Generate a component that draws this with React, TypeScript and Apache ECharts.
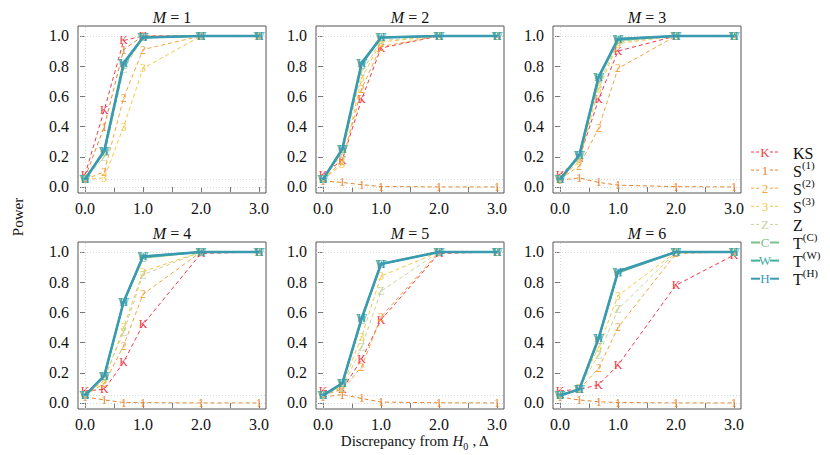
import React, { useEffect, useRef } from "react";
import * as echarts from "echarts";

// ---------- data ----------
const deltas = [0, 0.333, 0.667, 1, 2, 3];
const panelM = ["1", "2", "3", "4", "5", "6"];
const refLevels = [0, 0.05, 1];
const xTickValues = [0, 0.5, 1, 1.5, 2, 2.5, 3];
const xLabelValues = [0, 1, 2, 3];
const yTickValues = [0, 0.2, 0.4, 0.6, 0.8, 1.0];

const ksPower = [
  [0.08, 0.51, 0.97, 1.0, 1.0, 1.0],
  [0.08, 0.18, 0.58, 0.92, 1.0, 1.0],
  [0.08, 0.19, 0.58, 0.9, 1.0, 1.0],
  [0.08, 0.09, 0.27, 0.52, 0.99, 1.0],
  [0.08, 0.09, 0.29, 0.55, 0.99, 1.0],
  [0.08, 0.09, 0.12, 0.25, 0.78, 0.98],
];
const s1Power = [
  [0.06, 0.4, 0.91, 1.0, 1.0, 1.0],
  [0.04, 0.03, 0.015, 0.003, 0.0, 0.0],
  [0.045, 0.06, 0.03, 0.012, 0.002, 0.0],
  [0.04, 0.02, 0.003, 0.002, 0.0, 0.0],
  [0.04, 0.055, 0.03, 0.006, 0.001, 0.0],
  [0.04, 0.02, 0.008, 0.003, 0.0, 0.0],
];
const s2Power = [
  [0.05, 0.1, 0.59, 0.91, 1.0, 1.0],
  [0.05, 0.17, 0.65, 0.93, 1.0, 1.0],
  [0.05, 0.14, 0.39, 0.785, 1.0, 1.0],
  [0.05, 0.13, 0.38, 0.72, 1.0, 1.0],
  [0.05, 0.09, 0.24, 0.57, 1.0, 1.0],
  [0.05, 0.09, 0.23, 0.5, 0.99, 1.0],
];
const s3Power = [
  [0.05, 0.06, 0.4, 0.785, 1.0, 1.0],
  [0.05, 0.15, 0.72, 0.96, 1.0, 1.0],
  [0.05, 0.17, 0.65, 0.95, 1.0, 1.0],
  [0.05, 0.15, 0.5, 0.87, 1.0, 1.0],
  [0.05, 0.11, 0.44, 0.84, 1.0, 1.0],
  [0.05, 0.1, 0.37, 0.71, 1.0, 1.0],
];
const zPower = [
  [0.05, 0.2, 0.78, 0.99, 1.0, 1.0],
  [0.05, 0.22, 0.76, 0.97, 1.0, 1.0],
  [0.05, 0.19, 0.68, 0.96, 1.0, 1.0],
  [0.05, 0.17, 0.47, 0.85, 1.0, 1.0],
  [0.05, 0.1, 0.37, 0.74, 1.0, 1.0],
  [0.05, 0.1, 0.32, 0.62, 1.0, 1.0],
];
const tcPower = [
  [0.05, 0.23, 0.81, 0.99, 1.0, 1.0],
  [0.05, 0.25, 0.81, 0.99, 1.0, 1.0],
  [0.05, 0.21, 0.72, 0.97, 1.0, 1.0],
  [0.05, 0.18, 0.67, 0.96, 1.0, 1.0],
  [0.05, 0.13, 0.55, 0.92, 1.0, 1.0],
  [0.05, 0.09, 0.42, 0.86, 1.0, 1.0],
];
const twPower = [
  [0.05, 0.24, 0.82, 0.99, 1.0, 1.0],
  [0.05, 0.25, 0.82, 0.99, 1.0, 1.0],
  [0.05, 0.21, 0.73, 0.98, 1.0, 1.0],
  [0.05, 0.18, 0.67, 0.97, 1.0, 1.0],
  [0.05, 0.13, 0.56, 0.92, 1.0, 1.0],
  [0.05, 0.09, 0.43, 0.87, 1.0, 1.0],
];
const thPower = [
  [0.05, 0.24, 0.82, 0.99, 1.0, 1.0],
  [0.05, 0.25, 0.82, 0.99, 1.0, 1.0],
  [0.05, 0.21, 0.73, 0.98, 1.0, 1.0],
  [0.05, 0.18, 0.67, 0.97, 1.0, 1.0],
  [0.05, 0.13, 0.56, 0.92, 1.0, 1.0],
  [0.05, 0.09, 0.43, 0.87, 1.0, 1.0],
];

// ---------- styles ----------
const FONT = "Liberation Serif";
const stats = [
  { letter: "K", base: "KS", sup: "", color: "#F03A47", dashed: true, width: 1, data: ksPower },
  { letter: "1", base: "S", sup: "(1)", color: "#E8832A", dashed: true, width: 1, data: s1Power },
  { letter: "2", base: "S", sup: "(2)", color: "#F4A43C", dashed: true, width: 1, data: s2Power },
  { letter: "3", base: "S", sup: "(3)", color: "#F5C842", dashed: true, width: 1, data: s3Power },
  { letter: "Z", base: "Z", sup: "", color: "#C5D49A", dashed: true, width: 1, data: zPower },
  { letter: "C", base: "T", sup: "(C)", color: "#7DBF8E", dashed: false, width: 1.6, data: tcPower },
  { letter: "W", base: "T", sup: "(W)", color: "#41B0A0", dashed: false, width: 1.8, data: twPower },
  { letter: "H", base: "T", sup: "(H)", color: "#3A9AB0", dashed: false, width: 2.6, data: thPower },
];

const gridLefts = [78, 316, 553];
const gridTops = [26, 242];
const gridW = 188;
const gridH = 167;

function buildOption() {
  const grids: any[] = [];
  const xAxes: any[] = [];
  const yAxes: any[] = [];
  const series: any[] = [];
  const graphics: any[] = [];

  panelM.forEach((m, p) => {
    const col = p % 3;
    const row = Math.floor(p / 3);
    const left = gridLefts[col];
    const top = gridTops[row];
    grids.push({
      left,
      top,
      width: gridW,
      height: gridH,
      show: true,
      borderColor: "#555",
      borderWidth: 1,
      backgroundColor: "transparent",
    });
    xAxes.push({
      gridIndex: p,
      type: "value",
      min: -0.12,
      max: 3.12,
      axisLine: { show: false },
      splitLine: { show: false },
      axisTick: { show: true, customValues: xTickValues, length: 5, lineStyle: { color: "#777" } },
      axisLabel: {
        customValues: xLabelValues,
        formatter: (v: number) => v.toFixed(1),
        fontFamily: FONT,
        fontSize: 16,
        color: "#111",
        margin: 7,
      },
    });
    yAxes.push({
      gridIndex: p,
      type: "value",
      min: -0.04,
      max: 1.066,
      axisLine: { show: false },
      splitLine: { show: false },
      axisTick: { show: true, customValues: yTickValues, length: 5, lineStyle: { color: "#777" } },
      axisLabel: {
        customValues: yTickValues,
        formatter: (v: number) => v.toFixed(1),
        fontFamily: FONT,
        fontSize: 16,
        color: "#111",
        margin: 9,
      },
    });
    stats.forEach((s, si) => {
      const ser: any = {
        type: "line",
        xAxisIndex: p,
        yAxisIndex: p,
        data: deltas.map((x, j) => [x, s.data[p][j]]),
        symbol: "circle",
        symbolSize: 1,
        silent: true,
        z: 2 + si,
        itemStyle: { color: s.color },
        lineStyle: { color: s.color, width: s.width, type: s.dashed ? [4, 3] : "solid" },
        label: {
          show: true,
          position: "inside",
          formatter: s.letter,
          color: s.color,
          fontFamily: FONT,
          fontSize: 12,
        },
      };
      if (si === 0) {
        ser.markLine = {
          silent: true,
          symbol: ["none", "none"],
          label: { show: false },
          lineStyle: { type: [1, 2], color: "#cfcfcf", width: 0.8 },
          data: [...refLevels.map((v) => ({ yAxis: v })), { xAxis: 0 }],
        };
      }
      series.push(ser);
    });
    graphics.push({
      type: "text",
      x: left + gridW / 2,
      y: top - 9,
      style: {
        text: `{i|M} = ${m}`,
        align: "center",
        verticalAlign: "middle",
        fontFamily: FONT,
        fontSize: 16,
        fill: "#111",
        rich: { i: { fontStyle: "italic", fontFamily: FONT, fontSize: 16, fill: "#111" } },
      },
    });
  });

  // axis names
  graphics.push({
    type: "text",
    x: 18,
    y: 217,
    rotation: Math.PI / 2,
    style: {
      text: "Power",
      align: "center",
      verticalAlign: "middle",
      fontFamily: FONT,
      fontSize: 15,
      fill: "#111",
    },
  });
  graphics.push({
    type: "text",
    x: 415,
    y: 441,
    style: {
      text: "Discrepancy from {i|H}{sub|0} , Δ",
      align: "center",
      verticalAlign: "middle",
      fontFamily: FONT,
      fontSize: 15,
      fill: "#111",
      rich: {
        i: { fontStyle: "italic", fontFamily: FONT, fontSize: 15, fill: "#111", lineHeight: 20 },
        sub: { fontFamily: FONT, fontSize: 10, fill: "#111", verticalAlign: "bottom", lineHeight: 10 },
      },
    },
  });

  // legend
  stats.forEach((s, i) => {
    const y = 152 + i * 18.1;
    const lstyle: any = { stroke: s.color, lineWidth: s.dashed ? 1 : 2 };
    if (s.dashed) lstyle.lineDash = [3, 2];
    graphics.push({ type: "line", shape: { x1: 751, y1: y, x2: 760, y2: y }, style: { ...lstyle } });
    graphics.push({ type: "line", shape: { x1: 770, y1: y, x2: 779, y2: y }, style: { ...lstyle } });
    graphics.push({
      type: "text",
      x: 765,
      y,
      style: {
        text: s.letter,
        align: "center",
        verticalAlign: "middle",
        fontFamily: FONT,
        fontSize: 13,
        fill: s.color,
      },
    });
    graphics.push({
      type: "text",
      x: 793,
      y: y - 1,
      style: {
        text: s.sup ? `{b|${s.base}}{s|${s.sup}}` : `{b|${s.base}}`,
        align: "left",
        verticalAlign: "middle",
        fontFamily: FONT,
        fontSize: 16,
        fill: "#111",
        rich: {
          b: { fontFamily: FONT, fontSize: 16, fill: "#111", lineHeight: 20, verticalAlign: "bottom" },
          s: { fontFamily: FONT, fontSize: 11, fill: "#111", lineHeight: 12, verticalAlign: "top" },
        },
      },
    });
  });

  return {
    animation: false,
    backgroundColor: "#fff",
    grid: grids,
    xAxis: xAxes,
    yAxis: yAxes,
    series,
    graphic: graphics,
  };
}

export default function App() {
  const ref = useRef<HTMLDivElement>(null);
  useEffect(() => {
    if (!ref.current) return;
    const chart = echarts.init(ref.current, null, { renderer: "svg" });
    chart.setOption(buildOption() as any);
    return () => chart.dispose();
  }, []);
  return (
    <div
      ref={ref}
      style={{ position: "fixed", left: 0, top: 0, width: 830, height: 455, background: "#fff" }}
    />
  );
}
